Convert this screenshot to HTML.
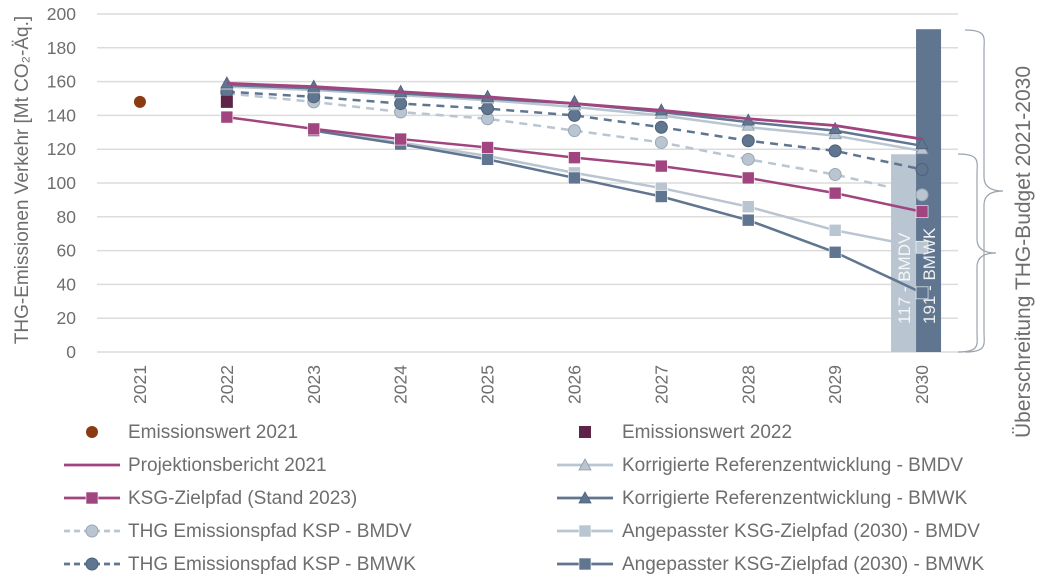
<!DOCTYPE html>
<html><head><meta charset="utf-8">
<style>
html,body{margin:0;padding:0;background:#fff;}
svg{display:block;font-family:"Liberation Sans",sans-serif;}
.t{fill:#6e6e6e;font-size:17.5px;}
.lg{fill:#6e6e6e;font-size:19px;}
</style></head>
<body>
<svg id="c" width="1055" height="583" viewBox="0 0 1055 583"></svg>
<script>
const years=["2021","2022","2023","2024","2025","2026","2027","2028","2029","2030"];
const yTicks=[0,20,40,60,80,100,120,140,160,180,200];
const emis2021=[148];
const emis2022=[148];
const projektion=[null,159,157,154,151,147,143,138,134,126];
const refBMDV=[null,157,155,152,149,145,140,133,128,119];
const refBMWK=[null,158,156,153,150,147,142,136,131,122];
const kspBMDV=[null,153,148,142,138,131,124,114,105,93];
const kspBMWK=[null,154,151,147,144,140,133,125,119,108];
const ksg=[null,139,132,126,121,115,110,103,94,83];
const angBMDV=[null,null,132,124,116,106,97,86,72,62];
const angBMWK=[null,null,131,123,114,103,92,78,59,35];
const budgetVals=[117,191];
const budgetLabels=["117 - BMDV","191 - BMWK"];

const NS="http://www.w3.org/2000/svg";
const svg=document.getElementById('c');
function el(t,a,p){const e=document.createElementNS(NS,t);for(const k in a)e.setAttribute(k,a[k]);(p||svg).appendChild(e);return e;}
const y0=352,y1=14,xL=96.5,band=86.9;
const Y=v=>y0-(v/200)*(y0-y1);
const X=i=>xL+band*(i+0.5);
const MAG="#a0457f",DARK="#5f7590",LIGHT="#b9c5d0",BROWN="#8b3a12",MAROON="#5e2447";

yTicks.forEach(v=>{
  const g=el('line',{x1:97,x2:958,y1:Y(v),y2:Y(v),stroke:"#dcdcdc","stroke-width":1.5});
  
  
  const t=el('text',{x:76,y:Y(v)+6,"text-anchor":"end",class:"t"});t.textContent=v;
  
  
});
years.forEach((yr,i)=>{
  const t=el('text',{transform:`translate(${X(i)+6},365) rotate(-90)`,"text-anchor":"end",class:"t"});t.textContent=yr;
  
  
});
const yt=el('text',{transform:"translate(28,180) rotate(-90)","text-anchor":"middle",class:"t",style:"font-size:19px"});
yt.textContent="THG-Emissionen Verkehr [Mt CO₂-Äq.]";



const bx=X(9);
const bcol=[LIGHT,DARK],bx0=[bx-31,bx-6],bw=[25,25];
budgetVals.forEach((v,i)=>{
  const r=el('rect',{x:bx0[i],y:Y(v),width:bw[i],height:y0-Y(v),fill:bcol[i]});
  
  
});

function series(vals,color,dash,marker,name,w){
  const pts=[];vals.forEach((v,i)=>{if(v!=null)pts.push([X(i),Y(v)]);});
  const p=el('polyline',{points:pts.map(p=>p.join(',')).join(' '),fill:"none",stroke:color,"stroke-width":w||2.5});
  if(dash)p.setAttribute('stroke-dasharray',dash);
  
  
  pts.forEach(([x,y])=>{const m=drawMarker(marker,x,y,color);if(m){
    
    }});
}
function drawMarker(type,x,y,color,g){
  if(type==='sq')return el('rect',{x:x-6,y:y-6,width:12,height:12,fill:color,stroke:"#fff","stroke-width":0.6},g);
  if(type==='ci')return el('circle',{cx:x,cy:y,r:6,fill:color,stroke:color==LIGHT?"#9aa8b5":"#4e6278","stroke-width":1},g);
  if(type==='tr')return el('path',{d:`M${x},${y-8} L${x+6},${y+3} L${x-6},${y+3}Z`,fill:color,stroke:color==LIGHT?"#8e9cab":"#4e6278","stroke-width":0.8},g);
  return null;
}
series(angBMDV,LIGHT,null,'sq','angepasst-bmdv');
series(angBMWK,DARK,null,'sq','angepasst-bmwk');
series(kspBMDV,LIGHT,"8,6",'ci','ksp-bmdv');
series(kspBMWK,DARK,"8,6",'ci','ksp-bmwk');
series(refBMDV,LIGHT,null,'tr','ref-bmdv');
series(refBMWK,DARK,null,'tr','ref-bmwk');
series(projektion,MAG,null,null,'projektionsbericht',2.8);
series(ksg,MAG,null,'sq','ksg-zielpfad');
const e1=el('circle',{cx:X(0),cy:Y(emis2021[0]),r:6,fill:BROWN});


const e2=el('rect',{x:X(1)-6,y:Y(emis2022[0])-6,width:12,height:12,fill:MAROON});



budgetVals.forEach((v,i)=>{
  const t=el('text',{transform:`translate(${bx0[i]+19},${y0-28}) rotate(-90)`,fill:i?"#f0f0f0":"#f4f6f8",style:"font-size:17px"});
  t.textContent=budgetLabels[i];
  
  
});

function brace(x,ya,yb,w,name){
  const m=(ya+yb)/2;
  const d=`M${x},${ya} C${x+w*0.6},${ya} ${x+w*0.5},${ya+8} ${x+w*0.5},${ya+20} L${x+w*0.5},${m-14} C${x+w*0.5},${m-4} ${x+w*0.7},${m} ${x+w},${m} C${x+w*0.7},${m} ${x+w*0.5},${m+4} ${x+w*0.5},${m+14} L${x+w*0.5},${yb-20} C${x+w*0.5},${yb-8} ${x+w*0.6},${yb} ${x},${yb}`;
  const p=el('path',{d,fill:"none",stroke:"#9aa3ad","stroke-width":1.2});
  
  
}
brace(965,30,352,38,'budget-brace-bmwk');
brace(958,154,352,38,'budget-brace-bmdv');
const rt=el('text',{transform:"translate(1030,252) rotate(-90)","text-anchor":"middle",class:"t",style:"font-size:21px"});
rt.textContent="Überschreitung THG-Budget 2021-2030";



const legNames=["Emissionswert 2021","Emissionswert 2022","Projektionsbericht 2021","Korrigierte Referenzentwicklung - BMDV","KSG-Zielpfad (Stand 2023)","Korrigierte Referenzentwicklung  - BMWK","THG Emissionspfad KSP - BMDV","Angepasster KSG-Zielpfad (2030) - BMDV","THG Emissionspfad KSP - BMWK","Angepasster KSG-Zielpfad (2030) - BMWK"];
const legStyle=[[BROWN,'none','ci0'],[MAROON,'none','sq0'],[MAG,null,null],[LIGHT,null,'tr'],[MAG,null,'sq'],[DARK,null,'tr'],[LIGHT,"6,4",'ci'],[LIGHT,null,'sq'],[DARK,"6,4",'ci'],[DARK,null,'sq']];
legNames.forEach((n,i)=>{
  const col=i%2,row=Math.floor(i/2);
  const lx=col?557:64,ty=432+row*33;
  const g=el('g',{});
  
  
  const [c,d,m]=legStyle[i];
  if(d!=='none'){const l=el('line',{x1:lx,x2:lx+56,y1:ty,y2:ty,stroke:c,"stroke-width":2.8},g);if(d)l.setAttribute('stroke-dasharray',d);}
  if(m==='ci0')el('circle',{cx:lx+28,cy:ty,r:6,fill:c},g);
  else if(m==='sq0')el('rect',{x:lx+22,y:ty-6,width:12,height:12,fill:c},g);
  else if(m)drawMarker(m,lx+28,ty+(m==='tr'?2:0),c,g);
  const t=el('text',{x:col?622:128,y:ty+6,class:"lg"},g);t.textContent=n;
});
</script>
</body></html>
